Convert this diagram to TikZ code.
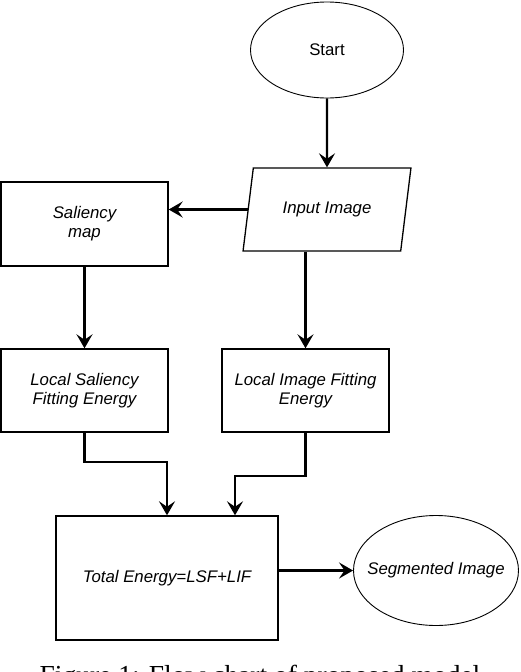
\documentclass[tikz,border=0pt]{standalone}
\usepackage{fontspec}
\setmainfont{Liberation Serif}
\setsansfont{Liberation Sans}
\usetikzlibrary{shapes.geometric, arrows.meta}

\tikzset{
	block/.style={draw, line width=1.4pt, rectangle, align=center, font=\sffamily\itshape\fontsize{16.8}{19}\selectfont},
	term/.style={draw, line width=0.9pt, ellipse, inner sep=0pt, align=center, font=\sffamily\fontsize{16.8}{19}\selectfont},
	io/.style={draw, line width=1.3pt, trapezium, trapezium left angle=67.7, trapezium right angle=112.3, trapezium stretches=true, align=center, font=\sffamily\itshape\fontsize{16.8}{19}\selectfont},
	flow/.style={line width=2.2pt, -{Stealth[length=14pt, width=16pt, inset=5.5pt]}}
}

\begin{document}
\begin{tikzpicture}[x=1pt, y=-1pt]
	\useasboundingbox (0, 0) rectangle (520, 672);
	\node[term, minimum width=153pt, minimum height=96pt] (start) at (327, 50) {\makebox[0pt]{Start}};
	\node[io, minimum width=168pt, minimum height=83pt, inner sep=0pt] (input) at (327, 209.5) {Input Image};
	\node[block, minimum width=167pt, minimum height=84pt] (sal) at (84.5, 224) {Saliency\\map};
	\node[block, minimum width=167pt, minimum height=83pt] (lsf) at (84.5, 390.5) {Local Saliency\\Fitting Energy};
	\node[block, minimum width=167pt, minimum height=83pt] (lif) at (305.5, 390.5) {Local Image Fitting\\Energy};
	\node[block, minimum width=222pt, minimum height=124pt] (total) at (167, 578) {Total Energy=LSF+LIF};
	\node[term, font=\sffamily\itshape\fontsize{16.8}{19}\selectfont, minimum width=165pt, minimum height=110pt] (seg) at (436, 570.5) {\makebox[0pt]{Segmented Image}};

	\draw[flow] (start.south) -- (input.north);
	\draw[flow] (input.left side) -- (sal.east |- input.left side);
	\draw[flow] (sal.south) -- (lsf.north);
	\draw[flow] (lif.north |- input.south) -- (lif.north);
	\draw[flow] (lsf.south) -- ++(0, 29) -| (total.north);
	\draw[flow] (lif.south) -- ++(0, 43) -| ([xshift=68pt]total.north);
	\draw[flow] (total.east |- seg.west) -- (seg.west);

	\node[anchor=base, font=\fontsize{27.5}{30}\selectfont, inner sep=0pt] (caption) at (260, 684) {Figure 1: Flow chart of proposed model};
\end{tikzpicture}
\end{document}
